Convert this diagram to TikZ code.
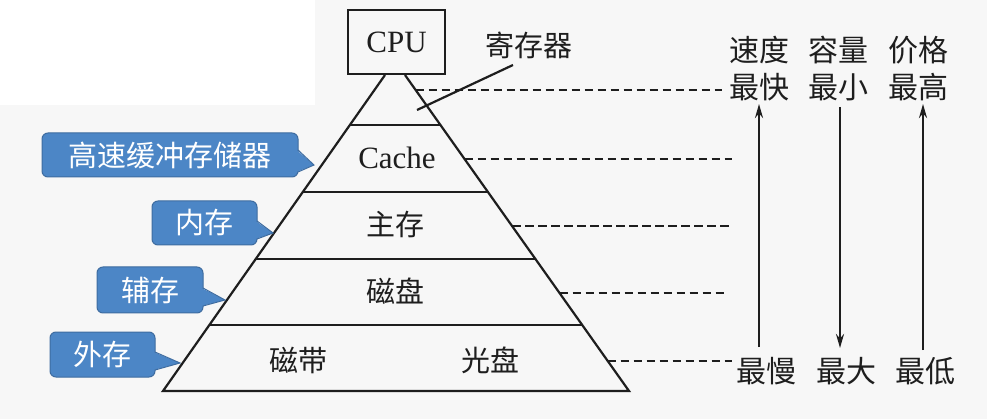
\documentclass[tikz,border=0pt]{standalone}
\usepackage{fontspec}
\setmainfont{Liberation Serif}
\newfontfamily\cjk{Noto Sans CJK SC}
\usetikzlibrary{calc,arrows.meta}
\definecolor{bgc}{RGB}{247,247,247}
\definecolor{cfill}{RGB}{76,134,198}
\definecolor{cdraw}{RGB}{62,108,160}
\definecolor{ink}{RGB}{30,30,30}
\tikzset{
  pyredge/.style={line width=2.2pt, draw=ink, line join=miter},
  dashline/.style={line width=2.1pt, draw=ink, dash pattern=on 8.5pt off 4.5pt},
  lvl/.style={font=\cjk\fontsize{29}{29}\selectfont, text=ink, inner sep=0pt},
  side/.style={font=\cjk\fontsize{30}{30}\selectfont, text=ink, inner sep=0pt},
  latin/.style={font=\fontsize{31}{31}\selectfont, text=ink, inner sep=0pt},
  cbox/.style={fill=cfill, draw=cdraw, line width=1pt, rounded corners=6pt,
    font=\cjk\fontsize{29}{29}\selectfont, text=white, inner sep=0pt},
  arr/.style={line width=2.2pt, draw=ink, -{Stealth[length=14pt,width=8pt]}},
}
\begin{document}
\begin{tikzpicture}[x=1pt,y=-1pt]
\useasboundingbox (0,0) rectangle (987,419);
\fill[bgc] (0,0) rectangle (987,419);
\fill[white] (0,0) rectangle (315,105);

% CPU
\node[draw=ink, line width=2.2pt, minimum width=97pt, minimum height=64pt, latin] (cpu) at (396.5,42) {CPU};

% pyramid
\coordinate (tl) at (385,75);
\coordinate (tr) at (405,75);
\coordinate (bl) at (163,391);
\coordinate (br) at (629,391);
\draw[pyredge] (tl) -- (bl) -- (br) -- (tr);
\foreach \t [count=\i] in {0.158,0.370,0.582,0.791} {
  \coordinate (L\i) at ($(tl)!\t!(bl)$);
  \coordinate (R\i) at ($(tr)!\t!(br)$);
  \draw[pyredge] (L\i) -- (R\i);
}

% level texts
\node[latin] (cache) at (397,158) {Cache};
\node[lvl] (mainmem) at (395,224) {主存};
\node[lvl] (disk) at (395,291) {磁盘};
\node[lvl] (tape) at (298,360) {磁带};
\node[lvl] (optical) at (490,360) {光盘};

% register label
\node[lvl] (reg) at (529,45) {寄存器};
\coordinate (rega) at (513,65);
\coordinate (regp) at (417,110);
\draw[pyredge] (rega) -- (regp);

% dashed lines
\foreach \t/\e [count=\i] in {0.0475/722,0.266/732,0.478/730,0.690/727,0.905/732} {
  \coordinate (D\i) at ($(tr)!\t!(br)$);
  \coordinate (E\i) at (\e,0);
  \draw[dashline] (D\i) -- (D\i -| E\i);
}

% right labels
\node[side] (speed) at (759,50) {速度};
\node[side] (fast) at (759,87) {最快};
\node[side] (cap) at (838,50) {容量};
\node[side] (small) at (838,87) {最小};
\node[side] (price) at (918,50) {价格};
\node[side] (high) at (918,87) {最高};
\node[side] (slow) at (766,371) {最慢};
\node[side] (big) at (846,371) {最大};
\node[side] (low) at (925,371) {最低};

\coordinate (a1s) at (759,347); \coordinate (a1e) at (759,104);
\coordinate (a2s) at (840,107); \coordinate (a2e) at (840,348);
\coordinate (a3s) at (923,350); \coordinate (a3e) at (923,104);
\draw[arr] (a1s) -- (a1e);
\draw[arr] (a2s) -- (a2e);
\draw[arr] (a3s) -- (a3e);

% callouts
\node[cbox, minimum width=256pt, minimum height=44pt] (cb1) at (170,155) {高速缓冲存储器};
\coordinate (t1a) at (298,150); \coordinate (t1b) at (298,172); \coordinate (t1p) at (314,165);
\fill[cfill] ($(t1a)+(-1.5,0)$) -- (t1p) -- ($(t1b)+(-1.5,0)$) -- cycle;
\draw[cdraw, line width=1pt] (t1a) -- (t1p) -- (t1b);

\node[cbox, minimum width=105pt, minimum height=44pt] (cb2) at (204.5,223) {内存};
\coordinate (t2a) at (257,221); \coordinate (t2b) at (257,239); \coordinate (t2p) at (273,233);
\fill[cfill] ($(t2a)+(-1.5,0)$) -- (t2p) -- ($(t2b)+(-1.5,0)$) -- cycle;
\draw[cdraw, line width=1pt] (t2a) -- (t2p) -- (t2b);

\node[cbox, minimum width=106pt, minimum height=46pt] (cb3) at (150,290) {辅存};
\coordinate (t3a) at (203,288); \coordinate (t3b) at (203,306); \coordinate (t3p) at (225,300);
\fill[cfill] ($(t3a)+(-1.5,0)$) -- (t3p) -- ($(t3b)+(-1.5,0)$) -- cycle;
\draw[cdraw, line width=1pt] (t3a) -- (t3p) -- (t3b);

\node[cbox, minimum width=105pt, minimum height=45pt] (cb4) at (102.5,354.5) {外存};
\coordinate (t4a) at (155,352); \coordinate (t4b) at (155,370); \coordinate (t4p) at (180,363);
\fill[cfill] ($(t4a)+(-1.5,0)$) -- (t4p) -- ($(t4b)+(-1.5,0)$) -- cycle;
\draw[cdraw, line width=1pt] (t4a) -- (t4p) -- (t4b);
\end{tikzpicture}
\end{document}
